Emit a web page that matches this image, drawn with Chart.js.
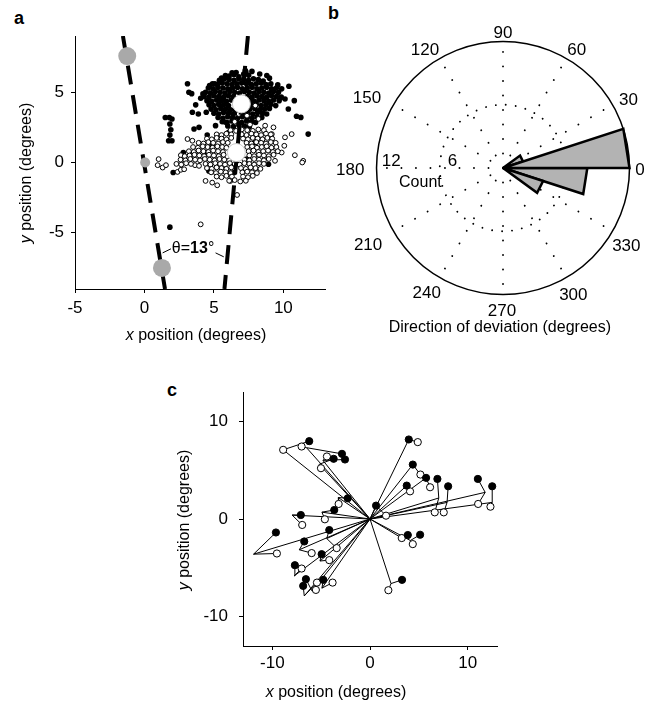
<!DOCTYPE html>
<html>
<head>
<meta charset="utf-8">
<title>Direction of deviation</title>
<script src="https://cdn.jsdelivr.net/npm/chart.js@4.4.1/dist/chart.umd.min.js"></script>
<style>
  html, body { margin: 0; padding: 0; background: #fff; }
  body { position: relative; width: 652px; height: 705px; overflow: hidden;
         font-family: "Liberation Sans", Arial, Helvetica, sans-serif; }
  .box { position: absolute; }
  .tag { position: absolute; font-weight: bold; font-size: 18px; line-height: 18px; }
</style>
</head>
<body>
  <div class="tag" style="left:14px; top:9px;">a</div>
  <div class="tag" style="left:328px; top:4px;">b</div>
  <div class="tag" style="left:167px; top:381px;">c</div>

  <div class="box" style="left:0; top:0; width:335px; height:350px;"><canvas id="scatterChart"></canvas></div>
  <div class="box" style="left:335px; top:5px; width:316px; height:340px;"><canvas id="roseChart"></canvas></div>
  <div class="box" style="left:150px; top:380px; width:360px; height:325px;"><canvas id="vectorChart"></canvas></div>

<script>
// ---------- data: panel a ----------
const aTicksX = [-5, 0, 5, 10];
const aTicksY = [-5, 0, 5];

// fixation targets (grey) and mean positions (white)
const aTargetsBig = [[-1.24, 7.57], [1.26, -7.5]];
const aTargetSmall = [[0.05, 0]];
const aMeans = [[6.98, 4.17], [6.62, 0.71]];

// dashed boundaries, end points
const aBoundLeft = [[-1.55, 9], [1.48, -9]];
const aBoundRight = [[7.45, 9], [5.76, -9]];

// filled dots (upper cluster)
const aFilled = [
  [3.1,5.6],[3.2,5.0],[3.4,4.9],[1.5,3.2],[1.79,3.2],[1.98,3.1],[1.83,2.74],[1.9,2.33],[1.83,1.95],
  [1.74,1.55],[1.98,1.55],[2.8,0.7],[2.07,-0.71],[1.83,-4.6],[4.05,4.57],[3.69,4.1],[3.45,3.57],
  [3.88,3.45],[3.93,2.5],[3.57,2.38],[4.45,3.57],[4.21,4.88],[4.69,5.48],[5.07,5.6],[5.55,6.0],
  [5.83,6.19],[6.31,6.38],[7.26,6.55],[7.74,6.48],[8.81,6.19],[9.6,5.52],[10.4,5.43],[10.79,4.4],
  [10.36,3.81],[11.26,3.21],[10.95,3.29],[11.79,2.02],[10.12,4.52],[9.88,5.24],[9.17,5.19],
  [4.88,1.19],[4.4,0.71],[4.64,-0.6],[5.36,-0.24],[6.07,2.14],[6.45,-0.71],[7.38,0.24],[6.67,0.83],
  [8.93,-0.12],[7.98,1.43],[5.83,2.86],[5.12,2.62],[4.52,1.95],
  [6.1,6.15],[6.45,6.25],[6.8,6.1],[7.15,6.3],[7.5,6.2],[7.3,6.45],[6.6,6.4],[8.3,6.3],[9.0,6.0],
  [5.4,5.85],[5.75,5.95],[6.1,5.9],[6.45,5.85],[6.8,5.95],[7.15,5.9],[7.5,5.85],[7.85,5.95],[8.2,5.9],[8.55,5.8],
  [4.9,5.6],[5.25,5.55],[5.6,5.65],[5.95,5.6],[6.3,5.55],[6.65,5.6],[7.0,5.65],[7.35,5.6],[7.7,5.55],
  [8.05,5.6],[8.4,5.65],[8.75,5.55],[9.1,5.6],
  [4.6,5.3],[4.95,5.25],[5.3,5.35],[5.65,5.3],[6.0,5.25],[6.35,5.3],[6.7,5.35],[7.05,5.25],[7.4,5.3],
  [7.75,5.35],[8.1,5.25],[8.45,5.3],[8.8,5.35],[9.15,5.25],[9.5,5.3],
  [4.4,5.0],[4.75,4.95],[5.1,5.05],[5.45,5.0],[5.8,4.95],[6.15,5.05],[6.5,5.0],[6.85,4.95],[7.2,5.05],
  [7.55,5.0],[7.9,4.95],[8.25,5.05],[8.6,5.0],[8.95,4.95],[9.3,5.05],[9.65,5.0],
  [4.3,4.7],[4.65,4.65],[5.0,4.75],[5.35,4.7],[5.7,4.65],[6.05,4.75],[6.4,4.7],[7.4,4.7],[7.75,4.65],
  [8.1,4.75],[8.45,4.7],[8.8,4.65],[9.15,4.75],[9.5,4.7],[9.85,4.65],
  [4.5,4.4],[4.85,4.35],[5.2,4.45],[5.55,4.4],[5.9,4.35],[6.25,4.45],[7.55,4.4],[7.9,4.35],[8.25,4.45],
  [8.6,4.4],[8.95,4.35],[9.3,4.45],[9.7,4.4],
  [4.65,4.1],[5.0,4.05],[5.35,4.15],[5.7,4.1],[6.05,4.05],[7.7,4.1],[8.05,4.15],[8.4,4.05],[8.75,4.1],
  [9.1,4.15],[9.45,4.05],
  [4.8,3.8],[5.15,3.75],[5.5,3.85],[5.85,3.8],[6.2,3.75],[6.55,3.7],[7.25,3.7],[7.6,3.8],[7.95,3.85],
  [8.3,3.75],[8.65,3.8],[9.0,3.85],
  [5.0,3.5],[5.35,3.45],[5.7,3.55],[6.05,3.5],[6.4,3.45],[6.75,3.5],[7.1,3.55],[7.45,3.5],[7.8,3.45],
  [8.15,3.55],[8.5,3.5],[8.8,3.45],
  [5.3,3.2],[5.65,3.15],[6.0,3.25],[6.35,3.2],[6.7,3.15],[7.05,3.25],[7.4,3.2],[7.75,3.15],[8.1,3.25],[8.45,3.2],
  [5.6,2.9],[5.95,2.85],[6.3,2.95],[6.65,2.9],[7.0,2.85],[7.35,2.95],[7.7,2.9],[8.0,2.85],
  [6.0,2.6],[6.4,2.55],[6.8,2.65],[7.2,2.6],[7.55,2.55]
];

// open dots (lower cluster)
const aOpen = [
  [1.02,0.24],[0.95,-0.19],[1.31,-0.36],[1.55,-0.19],[2.38,-0.67],[2.62,-0.52],[2.86,-0.48],[2.62,0.52],
  [3.1,1.67],[3.45,1.55],[3.33,0.48],[3.69,0.67],[3.64,-0.19],[3.93,-0.24],[4.4,-1.31],[4.88,-1.43],
  [5.24,-1.62],[6.19,-1.31],[6.67,-2.31],[4.05,-4.4],[9.17,2.02],[10.07,1.19],[10.6,2.02],[10.83,0.52],
  [11.43,0.12],[11.36,0],[9.88,0.71],[9.4,0.12],[10.12,1.79],[8.69,2.62],[9.29,2.5],[8.21,3.1],
  [7.98,4.05],[7.38,3.33],[6.79,3.45],[6.5,2.9],[7.6,2.7],
  [6.2,2.3],[6.6,2.25],[7.0,2.35],[7.4,2.3],[7.8,2.25],[8.2,2.35],[8.6,2.3],
  [5.2,2.0],[5.55,1.95],[5.9,2.05],[6.25,2.0],[7.0,2.0],[7.35,1.95],[7.7,2.05],[8.05,2.0],[8.4,1.95],
  [8.75,2.05],[9.1,2.0],
  [4.5,1.7],[4.85,1.65],[5.2,1.75],[5.55,1.7],[5.9,1.65],[6.25,1.75],[7.1,1.7],[7.45,1.65],[7.8,1.75],
  [8.15,1.7],[8.5,1.65],[8.85,1.75],[9.2,1.7],
  [3.9,1.4],[4.25,1.35],[4.6,1.45],[4.95,1.4],[5.3,1.35],[5.65,1.45],[6.0,1.4],[7.35,1.4],[7.7,1.35],
  [8.05,1.45],[8.4,1.4],[8.75,1.35],[9.1,1.45],[9.45,1.4],
  [3.5,1.1],[3.85,1.05],[4.2,1.15],[4.55,1.1],[4.9,1.05],[5.25,1.15],[5.6,1.1],[5.9,1.05],[7.4,1.1],
  [7.75,1.15],[8.1,1.05],[8.45,1.1],[8.8,1.15],[9.15,1.05],[9.5,1.1],
  [3.2,0.8],[3.55,0.75],[3.9,0.85],[4.25,0.8],[4.6,0.75],[4.95,0.85],[5.3,0.8],[5.65,0.75],[7.5,0.8],
  [7.85,0.85],[8.2,0.75],[8.55,0.8],[8.9,0.85],[9.25,0.75],[9.6,0.8],
  [2.9,0.45],[3.25,0.5],[3.6,0.55],[3.95,0.5],[4.3,0.45],[4.65,0.55],[5.0,0.5],[5.35,0.45],[5.7,0.55],
  [7.55,0.5],[7.9,0.45],[8.25,0.55],[8.6,0.5],[8.95,0.45],[9.3,0.55],
  [2.6,0.2],[2.95,0.15],[3.3,0.25],[3.65,0.2],[4.0,0.15],[4.35,0.25],[4.7,0.2],[5.05,0.15],[5.4,0.25],
  [5.75,0.2],[6.1,0.15],[7.2,0.2],[7.55,0.15],[7.9,0.25],[8.25,0.2],[8.6,0.15],[8.95,0.25],
  [2.3,-0.1],[2.65,-0.15],[3.0,-0.05],[3.35,-0.1],[4.4,-0.1],[4.75,-0.15],[5.1,-0.05],[5.45,-0.1],
  [5.8,-0.15],[6.15,-0.05],[6.5,-0.1],[6.85,-0.15],[7.2,-0.05],[7.55,-0.1],[7.9,-0.15],[8.25,-0.05],[8.6,-0.1],
  [4.5,-0.4],[4.85,-0.45],[5.2,-0.35],[5.55,-0.4],[5.9,-0.45],[6.25,-0.35],[6.95,-0.4],[7.3,-0.45],
  [7.65,-0.35],[8.0,-0.4],[8.35,-0.45],
  [4.8,-0.7],[5.15,-0.75],[5.5,-0.65],[5.85,-0.7],[6.2,-0.75],[7.05,-0.7],[7.4,-0.65],[7.75,-0.7],[8.1,-0.75],
  [5.2,-1.0],[5.55,-1.05],[5.9,-0.95],[6.3,-1.0],[7.1,-1.0],[7.45,-1.05],[7.8,-0.95],
  [6.1,-1.3],[6.5,-1.25],[6.9,-1.35],[7.3,-1.3]
];

// ---------- data: panel b (rose histogram) ----------
const roseBinStart = [0, 18, 324, 342];   // degrees
const roseBinWidth = 18;
const roseCounts = [12, 2, 4, 8];
const roseRings = [6, 12];
const roseSpokes = [0, 30, 60, 90, 120, 150, 180, 210, 240, 270, 300, 330];

// ---------- data: panel c ----------
const cTicks = [-10, 0, 10];
const cFilled = [
  [3.97,8.14],[4.38,5.57],[5.74,4.21],[3.76,3.42],[6.9,4.1],[8.0,3.35],[11.04,4.1],[12.51,3.35],[0.62,1.37],
  [3.87,-1.64],[5.13,-1.61],[3.28,-6.23],
  [-9.63,-1.38],[-6.73,-2.3],[-4.17,-1.13],[-4.95,-3.6],[-7.69,-4.73],[-6.56,-6.16],[-6.84,-6.85],[-4.78,-6.23],
  [-6.22,7.97],[-2.87,6.67],[-2.56,6.09],[-3.72,6.16],[-2.28,2.12],[-3.66,0.92],[-7.08,0.41]
];
const cOpen = [
  [4.89,7.87],[5.16,4.55],[6.15,3.25],[4.1,2.83],[6.63,0.68],[7.55,0.68],[11.07,1.54],[12.33,1.26],[1.64,0.34],
  [3.25,-1.95],[4.38,-2.57],[1.88,-7.29],
  [-9.53,-3.53],[-5.97,-3.49],[-3.41,-2.98],[-4.17,-4.21],[-7.0,-5.07],[-5.54,-7.26],[-5.43,-6.51],[-3.83,-6.51],
  [-8.89,7.08],[-7.0,7.42],[-4.41,6.4],[-5.02,5.2],[-3.21,1.54],[-4.62,-0.03],[-6.94,-0.61]
];
const cKnee = [
  [3.97,8.14],[4.38,5.57],[5.74,4.21],[3.76,3.42],[7.04,2.15],[7.89,1.7],[11.79,2.73],[12.51,1.7],[0.62,1.37],
  [3.25,-1.95],[4.13,-2.2],[2.15,-6.61],
  [-11.92,-3.6],[-7.24,-3.15],[-4.43,-2.0],[-5.12,-4.3],[-7.75,-5.82],[-5.94,-7.36],[-6.73,-7.87],[-4.92,-7.08],
  [-8.89,7.08],[-6.5,7.3],[-4.82,6.0],[-5.2,5.6],[-3.25,2.2],[-4.92,0.7],[-7.97,0.4]
];

// ---------- shared helpers ----------
const FAMILY = '"Liberation Sans", Arial, Helvetica, sans-serif';
const PLAIN = `16px ${FAMILY}`;
const ITAL = `italic 16px ${FAMILY}`;
const BOLD = `bold 16px ${FAMILY}`;

Chart.defaults.font.family = FAMILY;
Chart.defaults.font.size = 16;
Chart.defaults.color = '#000';
Chart.defaults.animation = false;

const pts = arr => arr.map(([x, y]) => ({ x, y }));

function drawRuns(ctx, runs, x, y, angle) {
  ctx.save();
  ctx.translate(x, y);
  ctx.rotate(angle || 0);
  ctx.textBaseline = 'middle';
  ctx.textAlign = 'left';
  ctx.fillStyle = '#000';
  let total = 0;
  runs.forEach(r => { ctx.font = r.font; r.w = ctx.measureText(r.text).width; total += r.w; });
  let cur = -total / 2;
  runs.forEach(r => { ctx.font = r.font; ctx.fillText(r.text, cur, 0); cur += r.w; });
  ctx.restore();
}

function axis(pos, min, max, ticks, size, pad) {
  return {
    type: 'linear', position: pos, min, max,
    afterBuildTicks: s => { s.ticks = ticks.map(v => ({ value: v })); },
    afterFit: s => {
      if (pos === 'left') s.width = size; else s.height = size;
      // keep the plot box where the layout padding puts it
      s.paddingTop = s.paddingBottom = s.paddingLeft = s.paddingRight = 0;
    },
    grid: { drawOnChartArea: false, drawTicks: true, tickLength: 4, tickColor: '#000', tickWidth: 1 },
    border: { display: true, color: '#000', width: 1 },
    ticks: { padding: pad, color: '#000', font: { size: 17 } }
  };
}

function axisTitles(id, xAt, yAt) {
  return {
    id,
    afterDraw(chart) {
      const ctx = chart.ctx;
      drawRuns(ctx, [{ text: 'x', font: ITAL }, { text: ' position (degrees)', font: PLAIN }], xAt[0], xAt[1], 0);
      drawRuns(ctx, [{ text: 'y', font: ITAL }, { text: ' position (degrees)', font: PLAIN }], yAt[0], yAt[1], -Math.PI / 2);
    }
  };
}

const baseOpts = {
  responsive: true,
  maintainAspectRatio: false,
  events: [],
  plugins: { legend: { display: false }, tooltip: { enabled: false } }
};

// ---------- panel a ----------
const thetaNote = {
  id: 'thetaNote',
  afterDatasetsDraw(chart) {
    const { ctx, scales: { x, y } } = chart;
    ctx.save();
    ctx.strokeStyle = '#000';
    ctx.lineWidth = 1;
    ctx.beginPath();
    ctx.moveTo(x.getPixelForValue(1.31), y.getPixelForValue(-6.43));
    ctx.lineTo(x.getPixelForValue(1.91), y.getPixelForValue(-6.14));
    ctx.moveTo(x.getPixelForValue(5.12), y.getPixelForValue(-6.43));
    ctx.lineTo(x.getPixelForValue(5.71), y.getPixelForValue(-6.71));
    ctx.stroke();
    ctx.restore();
    drawRuns(ctx, [{ text: 'θ=', font: PLAIN }, { text: '13', font: BOLD }, { text: '°', font: PLAIN }],
      x.getPixelForValue(3.5), y.getPixelForValue(-6.1), 0);
  }
};

new Chart(document.getElementById('scatterChart'), {
  type: 'scatter',
  data: {
    datasets: [
      { data: pts(aMeans), backgroundColor: '#fff', borderColor: '#c8c8c8', borderWidth: 1, pointRadius: 9, order: 0 },
      { data: pts(aTargetsBig), backgroundColor: '#a9a9a9', borderWidth: 0, pointRadius: 9, order: 0 },
      { data: pts(aTargetSmall), backgroundColor: '#a9a9a9', borderWidth: 0, pointRadius: 5, order: 0 },
      { data: pts(aBoundLeft), showLine: true, borderColor: '#000', borderWidth: 4, borderDash: [19, 11],
        pointRadius: 0, order: 1 },
      { data: pts(aBoundRight), showLine: true, borderColor: '#000', borderWidth: 4, borderDash: [19, 11],
        pointRadius: 0, order: 1 },
      { data: pts(aOpen), backgroundColor: '#fff', borderColor: '#000', borderWidth: 1, pointRadius: 2.4, order: 2 },
      { data: pts(aFilled), backgroundColor: '#000', borderWidth: 0, pointRadius: 2.8, order: 3 }
    ]
  },
  options: {
    ...baseOpts,
    layout: { padding: { top: 36, right: 8, left: 0, bottom: 0 } },
    scales: {
      x: axis('bottom', -5, 13, aTicksX, 61, 5),
      y: axis('left', -9, 9, aTicksY, 75, 7)
    }
  },
  plugins: [thetaNote, axisTitles('aTitles', [196, 336], [27, 173])]
});

// ---------- panel b ----------
const roseLabelSpots = {
  0: [13.0, -0.25], 30: [11.9, 6.45], 60: [7.0, 11.2], 90: [0, 12.8], 120: [-7.4, 11.2], 150: [-12.9, 6.6],
  180: [-14.5, -0.25], 210: [-12.8, -7.3], 240: [-7.24, -11.9], 270: [-0.1, -13.6], 300: [6.67, -12.05], 330: [11.7, -7.47]
};

const roseGrid = {
  id: 'roseGrid',
  beforeDatasetsDraw(chart) {
    const { ctx, scales: { x, y } } = chart;
    const cx = x.getPixelForValue(0), cy = y.getPixelForValue(0);
    const unit = x.getPixelForValue(1) - cx;
    const rMax = roseRings[roseRings.length - 1];
    ctx.save();
    ctx.strokeStyle = '#000';
    ctx.lineCap = 'round';
    ctx.lineWidth = 1.9;
    ctx.setLineDash([0.01, 14.5]);
    roseSpokes.forEach(a => {
      const t = a * Math.PI / 180;
      ctx.beginPath();
      ctx.moveTo(cx, cy);
      ctx.lineTo(cx + rMax * unit * Math.cos(t), cy - rMax * unit * Math.sin(t));
      ctx.stroke();
    });
    ctx.setLineDash([0.01, 10]);
    roseRings.slice(0, -1).forEach(r => {
      ctx.beginPath();
      ctx.arc(cx, cy, r * unit, 0, Math.PI * 2);
      ctx.stroke();
    });
    ctx.setLineDash([]);
    ctx.lineCap = 'butt';
    ctx.lineWidth = 1.5;
    ctx.beginPath();
    ctx.arc(cx, cy, rMax * unit, 0, Math.PI * 2);
    ctx.stroke();
    ctx.restore();
  },
  afterDraw(chart) {
    const { ctx, scales: { x, y } } = chart;
    ctx.save();
    ctx.fillStyle = '#000';
    ctx.textAlign = 'center';
    ctx.textBaseline = 'middle';
    ctx.font = `17px ${FAMILY}`;
    roseSpokes.forEach(a => {
      const [lx, ly] = roseLabelSpots[a];
      ctx.fillText(String(a), x.getPixelForValue(lx), y.getPixelForValue(ly));
    });
    ctx.fillText('12', x.getPixelForValue(-10.6), y.getPixelForValue(0.6));
    ctx.fillText('6', x.getPixelForValue(-4.8), y.getPixelForValue(0.6));
    ctx.font = PLAIN;
    ctx.fillText('Count', x.getPixelForValue(-7.84), y.getPixelForValue(-1.4));
    ctx.fillText('Direction of deviation (degrees)', x.getPixelForValue(-0.3), y.getPixelForValue(-15.15));
    ctx.restore();
  }
};

function wedge(start, count) {
  const a1 = start * Math.PI / 180;
  const a2 = (start + roseBinWidth) * Math.PI / 180;
  return [
    { x: 0, y: 0 },
    { x: count * Math.cos(a1), y: count * Math.sin(a1) },
    { x: count * Math.cos(a2), y: count * Math.sin(a2) },
    { x: 0, y: 0 }
  ];
}

new Chart(document.getElementById('roseChart'), {
  type: 'line',
  data: {
    datasets: roseBinStart.map((s, i) => ({
      data: wedge(s, roseCounts[i]),
      fill: 'shape',
      backgroundColor: '#b3b3b3',
      borderColor: '#000',
      borderWidth: 2.5,
      borderJoinStyle: 'miter',
      pointRadius: 0
    }))
  },
  options: {
    ...baseOpts,
    layout: { padding: 0 },
    scales: {
      x: { type: 'linear', display: false, min: -15.94, max: 14.04 },
      y: { type: 'linear', display: false, min: -16.79, max: 15.46 }
    }
  },
  plugins: [roseGrid]
});

// ---------- panel c ----------
const cSegments = [];
cKnee.forEach(([kx, ky], i) => {
  cSegments.push({ x: 0, y: 0 }, { x: kx, y: ky }, { x: cFilled[i][0], y: cFilled[i][1] }, { x: null, y: null });
  cSegments.push({ x: kx, y: ky }, { x: cOpen[i][0], y: cOpen[i][1] }, { x: null, y: null });
});

new Chart(document.getElementById('vectorChart'), {
  type: 'scatter',
  data: {
    datasets: [
      { data: pts(cFilled), backgroundColor: '#000', borderColor: '#000', borderWidth: 1, pointRadius: 3.6, order: 0 },
      { data: pts(cOpen), backgroundColor: '#fff', borderColor: '#000', borderWidth: 1, pointRadius: 3.6, order: 0 },
      { data: cSegments, showLine: true, spanGaps: false, borderColor: '#000', borderWidth: 1,
        pointRadius: 0, order: 1 }
    ]
  },
  options: {
    ...baseOpts,
    layout: { padding: { top: 12, right: 13, left: 0, bottom: 0 } },
    scales: {
      x: axis('bottom', -13, 13, cTicks, 59, 3),
      y: axis('left', -13, 13, cTicks, 93, 11)
    }
  },
  plugins: [axisTitles('cTitles', [186, 313], [35, 140])]
});
</script>
</body>
</html>
